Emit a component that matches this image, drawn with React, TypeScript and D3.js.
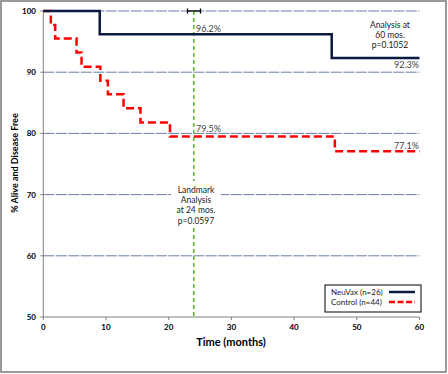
import React from 'react';
import * as d3 from 'd3';

// Kaplan-Meier steps (months, % alive and disease free)
const neuvax = [
  {t: 0, s: 100}, {t: 9, s: 96.2}, {t: 46, s: 92.3}, {t: 60, s: 92.3}
];
const control = [
  {t: 0, s: 100}, {t: 1.2, s: 97.7}, {t: 1.9, s: 95.5}, {t: 5.3, s: 93.2},
  {t: 6.1, s: 90.9}, {t: 9.1, s: 88.6}, {t: 10.3, s: 86.4}, {t: 12.8, s: 84.1},
  {t: 15.5, s: 81.8}, {t: 20.2, s: 79.5}, {t: 46.5, s: 77.1}, {t: 60, s: 77.1}
];
const xTicks = [0, 10, 20, 30, 40, 50, 60];
const yTicks = [50, 60, 70, 80, 90, 100];
const gridLines = [60, 70, 80, 90, 100];
const landmarkMonth = 24;
const landmarkText = ['Landmark', 'Analysis', 'at 24 mos.', 'p=0.0597'];
const finalText = ['Analysis at', '60 mos.', 'p=0.1052'];
const legendItems = ['NeuVax (n=26)', 'Control (n=44)'];

const font = 'Lato, "Open Sans", sans-serif';

const App = () => {
  const x = d3.scaleLinear().domain([0, 60]).range([43.3, 419.5]);
  const y = d3.scaleLinear().domain([50, 100]).range([317, 11]);

  const line = d3.line<{t: number, s: number}>()
    .x(d => x(d.t))
    .y(d => y(d.s))
    .curve(d3.curveStepAfter);

  const lx = x(landmarkMonth);

  return (
    <svg width={448} height={374} style={{position: 'absolute', left: 0, top: 0}}
         fontFamily={font}>
      <rect x={0} y={0} width={448} height={374} fill="#fff"/>
      <rect x={1} y={1} width={445} height={371} fill="none" stroke="#7a7a7a" strokeWidth={1.5}/>

      {gridLines.map(v => (
        <line key={v} x1={x(0)} x2={x(60)} y1={y(v)} y2={y(v)}
              stroke="#6a7bab" strokeWidth={1} strokeDasharray="11,1.5"/>
      ))}

      {/* axes */}
      <line x1={x(0)} x2={x(0)} y1={y(100)} y2={y(50)} stroke="#808080" strokeWidth={1}/>
      <line x1={x(0)} x2={x(60)} y1={y(50)} y2={y(50)} stroke="#808080" strokeWidth={1}/>
      {yTicks.map(v => (
        <g key={v}>
          <line x1={x(0) - 3} x2={x(0)} y1={y(v)} y2={y(v)} stroke="#808080"/>
          <text x={36} y={y(v) + 3} textAnchor="end" fontSize={8} fontWeight="bold">{v}</text>
        </g>
      ))}
      {xTicks.map(v => (
        <g key={v}>
          <line x1={x(v)} x2={x(v)} y1={y(50)} y2={y(50) + 3} stroke="#808080"/>
          <text x={x(v)} y={330} textAnchor="middle" fontSize={8} fontWeight="bold">{v}</text>
        </g>
      ))}
      <text x={231} y={346} textAnchor="middle" fontSize={11} fontWeight="bold">Time (months)</text>
      <text transform="translate(18,163) rotate(-90)" textAnchor="middle" fontSize={9}
            fontWeight="bold">% Alive and Disease Free</text>

      {/* landmark line */}
      <line x1={lx} x2={lx} y1={y(100)} y2={y(50)} stroke="#5cb82a" strokeWidth={1.5}
            strokeDasharray="4,3"/>
      <rect x={171} y={181} width={50} height={45} fill="#fff"/>
      {landmarkText.map((s, i) => (
        <text key={s} x={196} y={193 + i * 10.2} textAnchor="middle" fontSize={8.5} fill="#222">{s}</text>
      ))}
      {/* error bar at top */}
      <line x1={187.5} x2={200.5} y1={y(100)} y2={y(100)} stroke="#000" strokeWidth={1.3}/>
      <line x1={187.5} x2={187.5} y1={y(100) - 2.5} y2={y(100) + 2.5} stroke="#000" strokeWidth={1.3}/>
      <line x1={200.5} x2={200.5} y1={y(100) - 2.5} y2={y(100) + 2.5} stroke="#000" strokeWidth={1.3}/>

      {/* curves */}
      <path d={line(control) || ''} fill="none" stroke="#ff0000" strokeWidth={2.5}
            strokeDasharray="8,4"/>
      <path d={line(neuvax) || ''} fill="none" stroke="#0b1a40" strokeWidth={2.5}/>

      {/* value labels */}
      <text x={196} y={y(96.2) - 2} fontSize={9} fill="#444">96.2%</text>
      <text x={196} y={y(79.5) - 4} fontSize={9} fill="#444">79.5%</text>
      <text x={419} y={y(92.3) + 10} textAnchor="end" fontSize={9} fill="#444">92.3%</text>
      <text x={419} y={y(77.1) - 2} textAnchor="end" fontSize={9} fill="#444">77.1%</text>
      {finalText.map((s, i) => (
        <text key={s} x={390} y={28 + i * 10.2} textAnchor="middle" fontSize={8.5} fill="#222">{s}</text>
      ))}

      {/* legend */}
      <rect x={325} y={285} width={96} height={27} fill="#fff" stroke="#000" strokeWidth={1}/>
      {legendItems.map((s, i) => (
        <g key={s}>
          <text x={331} y={295 + i * 10} fontSize={8} fill="#222">{s}</text>
          <line x1={389} x2={415} y1={292 + i * 10} y2={292 + i * 10}
                stroke={i === 0 ? '#0b1a40' : '#ff0000'} strokeWidth={2.5}
                strokeDasharray={i === 0 ? undefined : '6,2.5'}/>
        </g>
      ))}
    </svg>
  );
};

export default App;
